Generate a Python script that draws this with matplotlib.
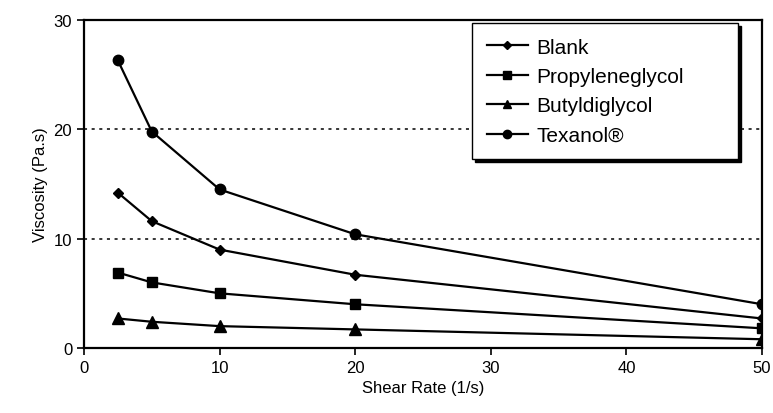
import matplotlib
matplotlib.use('Agg')
import matplotlib.pyplot as plt

plt.rcParams['font.family'] = ['Liberation Sans', 'DejaVu Sans']

# shear rate (1/s)
shear = [2.5, 5, 10, 20, 50]
# viscosity (Pa.s)
blank = [14.2, 11.6, 9.0, 6.7, 2.7]
propyleneglycol = [6.9, 6.0, 5.0, 4.0, 1.8]
butyldiglycol = [2.7, 2.4, 2.0, 1.7, 0.8]
texanol = [26.3, 19.8, 14.5, 10.4, 4.0]

fig = plt.figure(figsize=(7.73, 4.14), dpi=100)
ax = fig.add_axes([84/773, 1-349/414, (762-84)/773, (349-21)/414])

ax.plot(shear, blank, color='k', linewidth=1.6, marker='D', markersize=5.5, label='Blank')
ax.plot(shear, propyleneglycol, color='k', linewidth=1.6, marker='s', markersize=7, label='Propyleneglycol')
ax.plot(shear, butyldiglycol, color='k', linewidth=1.6, marker='^', markersize=8, label='Butyldiglycol')
ax.plot(shear, texanol, color='k', linewidth=1.6, marker='o', markersize=7.5, label='Texanol\u00ae')

for yv in [10, 20]:
    ax.axhline(yv, color='k', linestyle=(0, (2, 3)), linewidth=1.1, zorder=0)

ax.set_xlim(0, 50)
ax.set_ylim(0, 30)
ax.set_xticks([0, 10, 20, 30, 40, 50])
ax.set_yticks([0, 10, 20, 30])
ax.tick_params(direction='out', length=5, width=1.2, labelsize=12, colors='k')
for s in ax.spines.values():
    s.set_linewidth(1.6)
ax.set_xlabel('Shear Rate (1/s)', fontsize=12)
ax.set_ylabel('Viscosity (Pa.s)', fontsize=12)

# legend box spans roughly x 472..738 px, top at y 24 px
leg = ax.legend(loc='upper left', mode='expand',
                bbox_to_anchor=((472-84)/678, (349-24)/328, (738-472)/678, 0.0),
                fontsize=15, fancybox=False, framealpha=1, edgecolor='k',
                shadow={'color': 'k', 'alpha': 1, 'ox': 2, 'oy': -2},
                handlelength=2.0, handletextpad=0.4, labelspacing=0.5,
                borderpad=0.7, borderaxespad=0, markerscale=0.8)
leg.get_frame().set_linewidth(1.0)

fig.savefig('out.png', dpi=100)
